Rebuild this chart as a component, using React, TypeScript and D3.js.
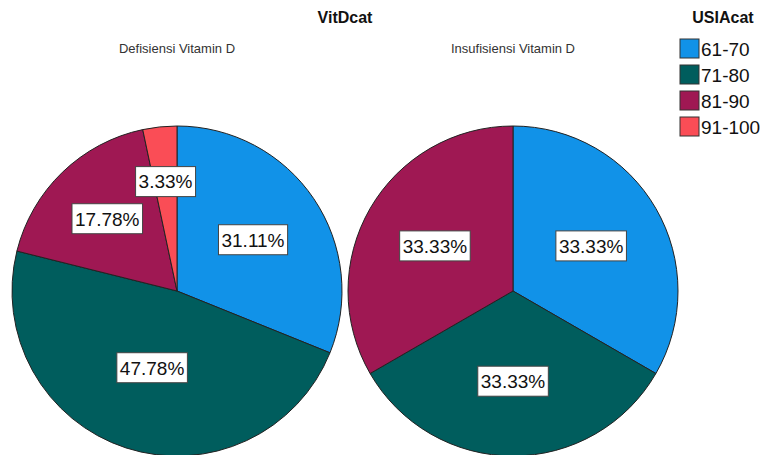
import * as d3 from "d3";
import { useEffect, useRef } from "react";

const categories = ["61-70", "71-80", "81-90", "91-100"];
const colors = ["#1192e8", "#005d5d", "#9f1853", "#fa4d56"];
const panelTitles = ["Defisiensi Vitamin D", "Insufisiensi Vitamin D"];
const defisiensiValues = [31.11, 47.78, 17.78, 3.33];
const insufisiensiValues = [33.33, 33.33, 33.33, 0];

const App = () => {
  const ref: any = useRef();

  useEffect(() => {
    if (ref?.current?.innerHTML) { ref.current.innerHTML = ''; }

    const width = 767, height = 455;
    const radius = 165;
    const centerY = 291;

    const svg = d3.select(ref.current)
      .attr("width", width)
      .attr("height", height)
      .style("font-family", "Arial, 'Liberation Sans', sans-serif");

    // panel centres
    const x = d3.scalePoint().domain(panelTitles).range([177, 513]);

    // main title
    svg.append("text")
      .attr("x", 345).attr("y", 23)
      .attr("text-anchor", "middle")
      .attr("font-size", 16).attr("font-weight", "bold")
      .attr("fill", "#111")
      .text("VitDcat");

    const pie = d3.pie<number>().sort(null).value((d) => d);
    const arc = d3.arc<any>().innerRadius(0).outerRadius(radius);

    [defisiensiValues, insufisiensiValues].forEach((values, i) => {
      const cx: any = x(panelTitles[i]);

      svg.append("text")
        .attr("x", cx).attr("y", 53)
        .attr("text-anchor", "middle")
        .attr("font-size", 13)
        .attr("fill", "#333")
        .text(panelTitles[i]);

      const g = svg.append("g").attr("transform", `translate(${cx}, ${centerY})`);
      const arcs = pie(values).filter((d) => d.value > 0);

      g.selectAll("path.slice")
        .data(arcs)
        .join("path")
        .attr("class", "slice")
        .attr("d", arc)
        .attr("fill", (d) => colors[d.index])
        .attr("stroke", "#222")
        .attr("stroke-width", 1);

      // value labels in boxes; small slices push their label further out
      arcs.forEach((d) => {
        const frac = (d.endAngle - d.startAngle) / (2 * Math.PI);
        const r = radius * (0.68 - 0.4 * frac);
        const [lx, ly] = d3.arc<any>().innerRadius(r).outerRadius(r).centroid(d);
        const label = g.append("g").attr("transform", `translate(${lx}, ${ly})`);
        const t = label.append("text")
          .attr("text-anchor", "middle")
          .attr("dy", "0.36em")
          .attr("font-size", 19)
          .attr("fill", "#111")
          .text(`${d.value.toFixed(2)}%`);
        const bb = (t.node() as any).getBBox();
        label.insert("rect", "text")
          .attr("x", bb.x - 3).attr("y", -15)
          .attr("width", bb.width + 6).attr("height", 30)
          .attr("fill", "#fff")
          .attr("stroke", "#444")
          .attr("stroke-width", 1);
      });
    });

    // legend
    const legend = svg.append("g");
    legend.append("text")
      .attr("x", 723).attr("y", 23)
      .attr("text-anchor", "middle")
      .attr("font-size", 16).attr("font-weight", "bold")
      .attr("fill", "#111")
      .text("USIAcat");

    const ly = d3.scaleBand().domain(categories).range([39, 143]);
    categories.forEach((c, i) => {
      const y0: any = ly(c);
      legend.append("rect")
        .attr("x", 680).attr("y", y0)
        .attr("width", 19).attr("height", 19)
        .attr("fill", colors[i])
        .attr("stroke", "#333")
        .attr("stroke-width", 1);
      legend.append("text")
        .attr("x", 701).attr("y", y0 + 17)
        .attr("font-size", 19)
        .attr("fill", "#111")
        .text(c);
    });
  }, []);

  return <svg ref={ref} style={{ position: "absolute", left: 0, top: 0 }} />;
};

export default App;
